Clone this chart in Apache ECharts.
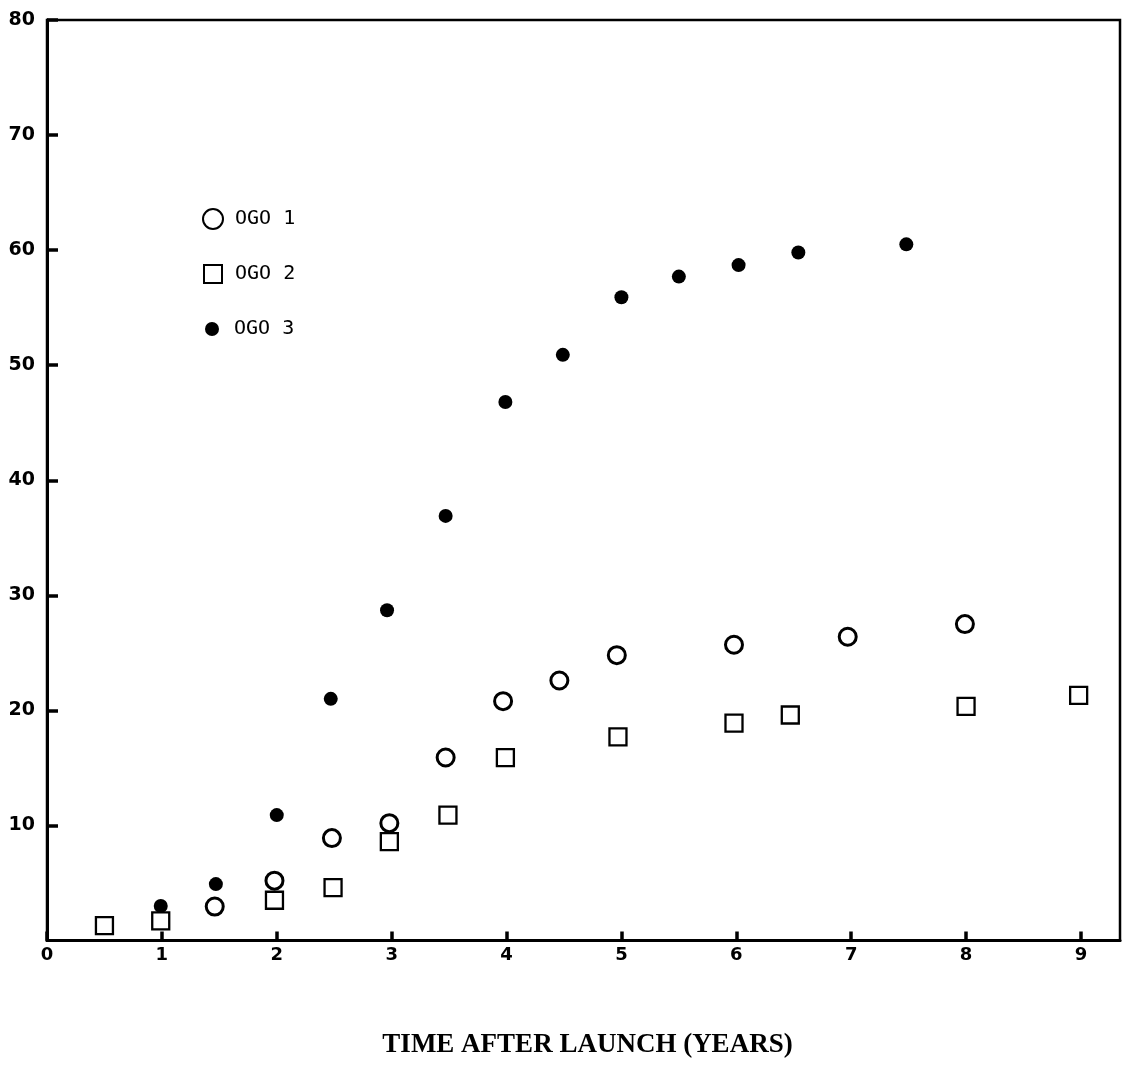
<!DOCTYPE html>
<html>
<head>
<meta charset="utf-8">
<script src="https://cdn.jsdelivr.net/npm/echarts@6/dist/echarts.min.js"></script>
<style>
  html, body { margin: 0; padding: 0; background: #fff; }
  #chart { width: 1122px; height: 1066px; }
</style>
</head>
<body>
<div id="chart"></div>
<script>
// Data
const seriesNames = ['OGO 1', 'OGO 2', 'OGO 3'];

const ogo1X = [1.46, 1.98, 2.48, 2.98, 3.47, 3.97, 4.46, 4.96, 5.98, 6.97, 7.99];
const ogo1Y = [2.95, 5.2, 8.9, 10.2, 15.9, 20.8, 22.6, 24.8, 25.7, 26.4, 27.5];

const ogo2X = [0.50, 0.99, 1.98, 2.49, 2.98, 3.49, 3.99, 4.97, 5.98, 6.47, 8.0, 8.98];
const ogo2Y = [1.3, 1.7, 3.5, 4.6, 8.6, 10.9, 15.9, 17.7, 18.9, 19.6, 20.35, 21.3];

const ogo3X = [0.99, 1.47, 2.0, 2.47, 2.96, 3.47, 3.99, 4.49, 5.0, 5.5, 6.02, 6.54, 7.48];
const ogo3Y = [3.0, 4.9, 10.9, 21.0, 28.7, 36.9, 46.8, 50.9, 55.9, 57.7, 58.7, 59.8, 60.5];

const xTicks = [0, 1, 2, 3, 4, 5, 6, 7, 8, 9];
const yTicks = [10, 20, 30, 40, 50, 60, 70, 80];
const xTitle = 'TIME AFTER LAUNCH (YEARS)';

function pairs(xs, ys) { return xs.map((x, i) => [x, ys[i]]); }

const chart = echarts.init(document.getElementById('chart'), null, { renderer: 'canvas' });

const legendText = { fontFamily: 'DejaVu Sans Mono', fontSize: 20, color: '#000', padding: [0, 0, 0, 7] };

chart.setOption({
  animation: false,
  backgroundColor: '#fff',
  grid: {
    left: 47, right: 2, top: 20, bottom: 125.5,
    show: true, borderColor: '#000', borderWidth: 2.5
  },
  legend: [
    { data: ['OGO 1'], left: 197, top: 203, itemWidth: 20, itemHeight: 20, textStyle: legendText, selectedMode: false },
    { data: ['OGO 2'], left: 198, top: 259, itemWidth: 18, itemHeight: 18, textStyle: Object.assign({}, legendText, { padding: [0, 0, 0, 8] }), selectedMode: false },
    { data: ['OGO 3'], left: 200, top: 314, itemWidth: 14, itemHeight: 14, textStyle: Object.assign({}, legendText, { padding: [0, 0, 0, 10] }), selectedMode: false }
  ],
  xAxis: {
    type: 'value', min: 0, max: 9.34, interval: 1,
    name: xTitle, nameLocation: 'middle', nameGap: 91,
    nameTextStyle: { fontFamily: 'Liberation Serif', fontWeight: 'bold', fontSize: 27, color: '#000', padding: [0, 0, 0, 8] },
    axisLine: { show: true, lineStyle: { color: '#000', width: 3 } },
    axisTick: { show: true, inside: true, length: 9, lineStyle: { color: '#000', width: 3.5 } },
    axisLabel: {
      show: true, margin: 6, color: '#000', fontFamily: 'DejaVu Sans', fontWeight: 'bold', fontSize: 18,
      showMaxLabel: false,
      formatter: v => (xTicks.indexOf(v) >= 0 ? String(v) : '')
    },
    splitLine: { show: false }
  },
  yAxis: {
    type: 'value', min: 0, max: 80, interval: 10,
    axisLine: { show: true, lineStyle: { color: '#000', width: 3 } },
    axisTick: { show: true, inside: true, length: 11, lineStyle: { color: '#000', width: 3.5 } },
    axisLabel: {
      show: true, margin: 12, color: '#000', fontFamily: 'DejaVu Sans', fontWeight: 'bold', fontSize: 19,
      showMinLabel: false,
      formatter: v => (yTicks.indexOf(v) >= 0 ? String(v) : '')
    },
    splitLine: { show: false }
  },
  series: [
    {
      name: seriesNames[0], type: 'scatter', symbol: 'circle', symbolSize: 17,
      itemStyle: { color: '#fff', borderColor: '#000', borderWidth: 3, opacity: 1 },
      data: pairs(ogo1X, ogo1Y), z: 3
    },
    {
      name: seriesNames[1], type: 'scatter', symbol: 'rect', symbolSize: 17,
      itemStyle: { color: '#fff', borderColor: '#000', borderWidth: 2.3, opacity: 1 },
      data: pairs(ogo2X, ogo2Y), z: 2
    },
    {
      name: seriesNames[2], type: 'scatter', symbol: 'circle', symbolSize: 14,
      itemStyle: { color: '#000', borderWidth: 0, opacity: 1 },
      data: pairs(ogo3X, ogo3Y), z: 4
    }
  ]
});
</script>
</body>
</html>
